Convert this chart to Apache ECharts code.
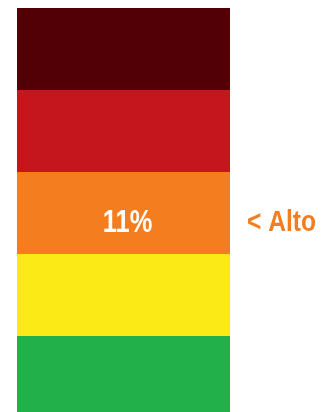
<!DOCTYPE html>
<html>
<head>
<meta charset="utf-8">
<script src="https://cdn.jsdelivr.net/npm/echarts@6/dist/echarts.min.js"></script>
<style>
  html, body { margin: 0; padding: 0; background: #fff; }
  #chart { width: 322px; height: 412px; }
</style>
</head>
<body>
<div id="chart"></div>
<script>
// niveles de riesgo, de abajo hacia arriba
const levels = ['Bajo', 'Moderado', 'Alto', 'Muy alto', 'Extremo'];
const levelValues = [1, 1, 1, 1, 1];
const levelColors = ['#22B04B', '#FCEA16', '#F47D20', '#C4161C', '#520005'];
const currentLevel = 'Alto';
const currentPct = '11%';

const fontFam = '"Liberation Sans", Arial, sans-serif';

var chart = echarts.init(document.getElementById('chart'));

let series = levels.map(function (name, i) {
    return {
        name: name,
        type: 'bar',
        stack: 'nivel',
        barWidth: '100%',
        silent: true,
        itemStyle: { color: levelColors[i] },
        data: [levelValues[i]]
    };
});

let option = {
    animation: false,
    // la barra verde sale cortada por abajo, como en la imagen
    grid: { left: 17, right: 92, top: 8, height: 410, outerBoundsMode: 'none' },
    xAxis: {
        type: 'category',
        data: ['nivel'],
        show: false
    },
    yAxis: {
        type: 'value',
        min: 0,
        max: 5,
        show: false
    },
    series: series
};

chart.setOption(option);

// texto del tramo actual: porcentaje dentro y "< Alto" a la derecha
let idx = levels.indexOf(currentLevel);
let below = levelValues.slice(0, idx).reduce((a, b) => a + b, 0);
let mid = below + levelValues[idx] / 2;
let center = chart.convertToPixel({ gridIndex: 0 }, [0, mid]);
let gridRect = chart.getModel().getComponent('grid').coordinateSystem.getRect();

// letra estrecha (tipo Arial Narrow) simulada con scaleX
chart.setOption({
    graphic: [{
        type: 'text',
        z: 100,
        x: center[0] + 4,
        y: center[1] + 10,
        scaleX: 0.82,
        style: {
            x: 0, y: 0,
            text: currentPct,
            fill: '#fff',
            align: 'center',
            verticalAlign: 'middle',
            font: 'bold 31px ' + fontFam
        }
    }, {
        type: 'text',
        z: 100,
        x: gridRect.x + gridRect.width + 17,
        y: center[1] + 10,
        scaleX: 0.82,
        style: {
            x: 0, y: 0,
            text: '< ' + currentLevel,
            fill: levelColors[idx],
            align: 'left',
            verticalAlign: 'middle',
            font: 'bold 30px ' + fontFam
        }
    }]
});
</script>
</body>
</html>
